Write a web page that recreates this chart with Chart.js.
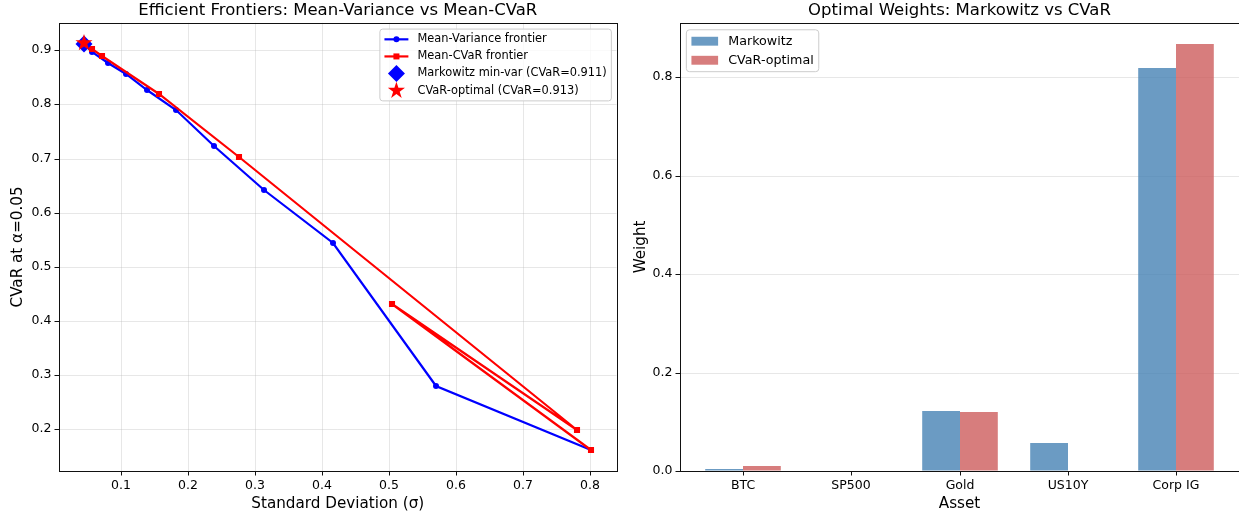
<!DOCTYPE html>
<html>
<head>
<meta charset="utf-8">
<script src="https://cdn.jsdelivr.net/npm/chart.js@4.4.1/dist/chart.umd.min.js"></script>
<style>
  body { margin: 0; background: #fff; overflow: hidden; }
  .panel { position: absolute; top: 0; height: 516px; }
</style>
</head>
<body>
<div class="panel" style="left:0;width:625px"><canvas id="frontiers"></canvas></div>
<div class="panel" style="left:620px;width:620px"><canvas id="weights"></canvas></div>
<script>
// Frontera media-varianza (sigma, CVaR)
const mvStd = [0.046, 0.058, 0.082, 0.108, 0.140, 0.182, 0.240, 0.314, 0.417, 0.570, 0.802]
const mvCvar = [0.911, 0.897, 0.877, 0.857, 0.827, 0.789, 0.724, 0.642, 0.544, 0.280, 0.160]

// Frontera media-CVaR
const cvarStd = [0.046, 0.058, 0.073, 0.158, 0.277, 0.781, 0.505, 0.802]
const cvarCvar = [0.913, 0.903, 0.890, 0.819, 0.703, 0.197, 0.431, 0.161]

// Carteras óptimas
const minVar = { std: 0.045, cvar: 0.911 }
const cvarOpt = { std: 0.046, cvar: 0.913 }

// Pesos por activo
const assets = ["BTC", "SP500", "Gold", "US10Y", "Corp IG"]
const markowitzW = [0.005, 0.0, 0.122, 0.056, 0.819]
const cvarW = [0.011, 0.0, 0.120, 0.0, 0.868]

Chart.defaults.font.family = "'DejaVu Sans', sans-serif"
Chart.defaults.color = "#000"
Chart.defaults.animation = false

const gridColor = "rgba(176, 176, 176, 0.3)"

function drawMarker(ctx, shape, x, y, r, color) {
  ctx.fillStyle = color
  ctx.beginPath()
  if (shape === "circle") {
    ctx.arc(x, y, r, 0, Math.PI * 2)
  } else if (shape === "square") {
    ctx.rect(x - r, y - r, 2 * r, 2 * r)
  } else if (shape === "diamond") {
    ctx.moveTo(x, y - r)
    ctx.lineTo(x + r, y)
    ctx.lineTo(x, y + r)
    ctx.lineTo(x - r, y)
    ctx.closePath()
  } else if (shape === "star") {
    for (let i = 0; i < 10; i++) {
      const rad = i % 2 ? r * 0.382 : r
      const a = -Math.PI / 2 + (i * Math.PI) / 5
      ctx.lineTo(x + rad * Math.cos(a), y + rad * Math.sin(a))
    }
    ctx.closePath()
  }
  ctx.fill()
}

function starImage(r, color) {
  const c = document.createElement("canvas")
  c.width = c.height = Math.ceil(2 * r + 2)
  drawMarker(c.getContext("2d"), "star", c.width / 2, c.height / 2, r, color)
  return c
}

// marco completo del área del gráfico
const frame = {
  id: "frame",
  afterDatasetsDraw(chart) {
    const { ctx, chartArea: a } = chart
    ctx.save()
    ctx.strokeStyle = "#111"
    ctx.lineWidth = 1
    const l = Math.round(a.left), t = Math.round(a.top)
    ctx.strokeRect(l + 0.5, t + 0.5, Math.round(a.right) - l, Math.round(a.bottom) - t)
    ctx.restore()
  },
}

// leyenda con recuadro, al estilo matplotlib
const boxLegend = {
  id: "boxLegend",
  afterDraw(chart, args, opts) {
    const items = opts.items
    if (!items) return
    const ctx = chart.ctx
    const area = chart.chartArea
    const fs = opts.fontSize
    ctx.save()
    ctx.font = fs + "px 'DejaVu Sans'"
    const textW = Math.max(...items.map((it) => ctx.measureText(it.label).width))
    const pad = 0.4 * fs
    const handle = 2.1 * fs
    const gap = 0.8 * fs
    const w = pad * 2 + handle + gap + textW
    const h = pad * 2 + fs * items.length + 0.5 * fs * (items.length - 1)
    const x = opts.align === "right" ? area.right - 0.45 * fs - w : area.left + 0.5 * fs
    const y = area.top + 0.55 * fs
    ctx.beginPath()
    if (ctx.roundRect) ctx.roundRect(x, y, w, h, 0.25 * fs)
    else ctx.rect(x, y, w, h)
    ctx.fillStyle = "rgba(255, 255, 255, 0.8)"
    ctx.fill()
    ctx.strokeStyle = "#cccccc"
    ctx.lineWidth = 1
    ctx.stroke()

    items.forEach((it, i) => {
      const cy = y + pad + fs / 2 + i * 1.5 * fs
      const hx = x + pad
      if (it.patch) {
        ctx.fillStyle = it.patch
        ctx.fillRect(hx, cy - 0.35 * fs, handle, 0.7 * fs)
      }
      if (it.line) {
        ctx.strokeStyle = it.line
        ctx.lineWidth = 2.2
        ctx.beginPath()
        ctx.moveTo(hx, cy)
        ctx.lineTo(hx + handle, cy)
        ctx.stroke()
      }
      if (it.marker) drawMarker(ctx, it.marker, hx + handle / 2, cy, it.size, it.color)
      ctx.fillStyle = "#000"
      ctx.textBaseline = "middle"
      ctx.textAlign = "left"
      ctx.fillText(it.label, hx + handle + gap, cy)
    })
    ctx.restore()
  },
}

function pairs(xs, ys) {
  return xs.map((v, i) => ({ x: v, y: ys[i] }))
}

function tickFont() {
  return { size: 12.5 }
}

// Gráfico de fronteras eficientes
new Chart(document.getElementById("frontiers"), {
  type: "scatter",
  data: {
    datasets: [
      {
        label: "CVaR-optimal (CVaR=" + cvarOpt.cvar.toFixed(3) + ")",
        data: [{ x: cvarOpt.std, y: cvarOpt.cvar }],
        pointStyle: starImage(9, "red"),
        order: 1,
      },
      {
        label: "Markowitz min-var (CVaR=" + minVar.cvar.toFixed(3) + ")",
        data: [{ x: minVar.std, y: minVar.cvar }],
        pointStyle: "rectRot",
        pointRadius: 8.5,
        backgroundColor: "blue",
        borderColor: "blue",
        borderWidth: 0,
        order: 2,
      },
      {
        label: "Mean-CVaR frontier",
        data: pairs(cvarStd, cvarCvar),
        showLine: true,
        borderColor: "red",
        backgroundColor: "red",
        borderWidth: 2.2,
        pointStyle: "rect",
        pointRadius: 4.3,
        pointBorderWidth: 0,
        order: 3,
      },
      {
        label: "Mean-Variance frontier",
        data: pairs(mvStd, mvCvar),
        showLine: true,
        borderColor: "blue",
        backgroundColor: "blue",
        borderWidth: 2.2,
        pointStyle: "circle",
        pointRadius: 3,
        pointBorderWidth: 0,
        order: 4,
      },
    ],
  },
  options: {
    responsive: true,
    maintainAspectRatio: false,
    events: [],
    layout: { padding: { left: 0, right: 3, top: 0, bottom: 0 } },
    scales: {
      x: {
        type: "linear",
        min: 0.0082,
        max: 0.8398,
        alignToPixels: true,
        border: { display: false },
        grid: { color: gridColor, lineWidth: 1, tickColor: "#111", tickLength: 4.5 },
        ticks: {
          stepSize: 0.1,
          includeBounds: false,
          maxRotation: 0,
          font: tickFont(),
          callback: (v) => v.toFixed(1),
        },
        title: { display: true, text: "Standard Deviation (σ)", font: { size: 15.2 }, padding: { top: 0, bottom: 3 } },
        afterFit: (scale) => { scale.height = 45 },
      },
      y: {
        type: "linear",
        min: 0.122,
        max: 0.951,
        alignToPixels: true,
        border: { display: false },
        grid: { color: gridColor, lineWidth: 1, tickColor: "#111", tickLength: 4.5 },
        ticks: {
          stepSize: 0.1,
          includeBounds: false,
          font: tickFont(),
          callback: (v) => v.toFixed(1),
        },
        title: { display: true, text: "CVaR at α=0.05", font: { size: 15.2 }, padding: { top: 9, bottom: 0 } },
        afterFit: (scale) => { scale.width = 59 },
      },
    },
    plugins: {
      legend: { display: false },
      tooltip: { enabled: false },
      title: {
        display: true,
        fullSize: false,
        text: "Efficient Frontiers: Mean-Variance vs Mean-CVaR",
        font: { size: 16.5, weight: "normal" },
        padding: { top: 1, bottom: 2 },
      },
      boxLegend: {
        align: "right",
        fontSize: 11.4,
        items: [
          { label: "Mean-Variance frontier", line: "blue", marker: "circle", size: 3, color: "blue" },
          { label: "Mean-CVaR frontier", line: "red", marker: "square", size: 3, color: "red" },
          { label: "Markowitz min-var (CVaR=" + minVar.cvar.toFixed(3) + ")", marker: "diamond", size: 8.5, color: "blue" },
          { label: "CVaR-optimal (CVaR=" + cvarOpt.cvar.toFixed(3) + ")", marker: "star", size: 9, color: "red" },
        ],
      },
    },
  },
  plugins: [frame, boxLegend],
})

// Gráfico de pesos óptimos
const markowitzColor = "rgba(70, 130, 180, 0.8)"
const cvarColor = "rgba(205, 92, 92, 0.8)"

new Chart(document.getElementById("weights"), {
  type: "bar",
  data: {
    datasets: [
      {
        label: "Markowitz",
        data: pairs(assets.map((a, i) => i), markowitzW),
        backgroundColor: markowitzColor,
        borderWidth: 0,
        categoryPercentage: 0.7,
        barPercentage: 1.0,
      },
      {
        label: "CVaR-optimal",
        data: pairs(assets.map((a, i) => i), cvarW),
        backgroundColor: cvarColor,
        borderWidth: 0,
        categoryPercentage: 0.7,
        barPercentage: 1.0,
      },
    ],
  },
  options: {
    responsive: true,
    maintainAspectRatio: false,
    events: [],
    layout: { padding: { left: 0, right: 1, top: 0, bottom: 0 } },
    scales: {
      x: {
        type: "linear",
        min: -0.585,
        max: 4.585,
        offset: false,
        alignToPixels: true,
        border: { display: false },
        grid: { offset: false, drawOnChartArea: false, tickColor: "#111", tickLength: 4.5 },
        ticks: {
          stepSize: 1,
          includeBounds: false,
          maxRotation: 0,
          autoSkip: false,
          font: tickFont(),
          callback: (v) => assets[v] ?? "",
        },
        title: { display: true, text: "Asset", font: { size: 15.2 }, padding: { top: 0, bottom: 3 } },
        afterFit: (scale) => { scale.height = 45 },
      },
      y: {
        type: "linear",
        min: 0,
        max: 0.911,
        alignToPixels: true,
        border: { display: false },
        grid: { color: gridColor, lineWidth: 1, tickColor: "#111", tickLength: 4.5 },
        ticks: {
          stepSize: 0.2,
          includeBounds: false,
          font: tickFont(),
          callback: (v) => v.toFixed(1),
        },
        title: { display: true, text: "Weight", font: { size: 15.2 }, padding: { top: 12, bottom: 0 } },
        afterFit: (scale) => { scale.width = 60 },
      },
    },
    plugins: {
      legend: { display: false },
      tooltip: { enabled: false },
      title: {
        display: true,
        fullSize: false,
        text: "Optimal Weights: Markowitz vs CVaR",
        font: { size: 16.5, weight: "normal" },
        padding: { top: 1, bottom: 2 },
      },
      boxLegend: {
        align: "left",
        fontSize: 12.7,
        items: [
          { label: "Markowitz", patch: markowitzColor },
          { label: "CVaR-optimal", patch: cvarColor },
        ],
      },
    },
  },
  plugins: [frame, boxLegend],
})
</script>
</body>
</html>
